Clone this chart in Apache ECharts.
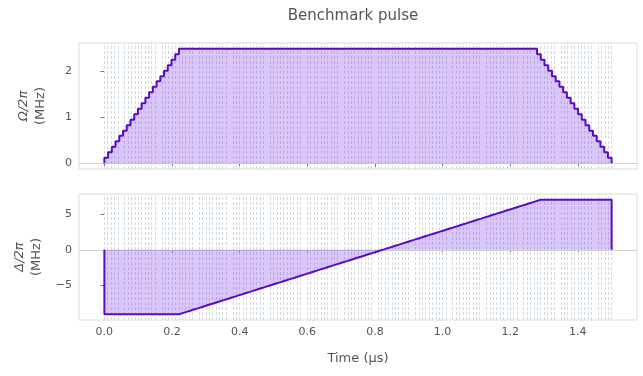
<!DOCTYPE html>
<html>
<head>
<meta charset="utf-8">
<script src="https://cdn.jsdelivr.net/npm/echarts@6/dist/echarts.min.js"></script>
<style>
html, body { margin: 0; padding: 0; background: #fff; }
#chart { width: 643px; height: 376px; }
</style>
</head>
<body>
<div id="chart"></div>
<script>
// one sample per step, 136 samples over 1.5 us
const DT = 1.5 / 136
const T_END = 1.5

// Omega/2pi (MHz), one value per sample
const omega = [
  0.12, 0.24, 0.36, 0.48, 0.60, 0.71, 0.83, 0.95, 1.07, 1.19, 1.31, 1.43, 1.55, 1.67, 1.79, 1.90, 2.02, 2.14, 2.26, 2.38,
  2.5, 2.5, 2.5, 2.5, 2.5, 2.5, 2.5, 2.5, 2.5, 2.5, 2.5, 2.5, 2.5, 2.5, 2.5, 2.5,
  2.5, 2.5, 2.5, 2.5, 2.5, 2.5, 2.5, 2.5, 2.5, 2.5, 2.5, 2.5, 2.5, 2.5, 2.5, 2.5,
  2.5, 2.5, 2.5, 2.5, 2.5, 2.5, 2.5, 2.5, 2.5, 2.5, 2.5, 2.5, 2.5, 2.5, 2.5, 2.5,
  2.5, 2.5, 2.5, 2.5, 2.5, 2.5, 2.5, 2.5, 2.5, 2.5, 2.5, 2.5, 2.5, 2.5, 2.5, 2.5,
  2.5, 2.5, 2.5, 2.5, 2.5, 2.5, 2.5, 2.5, 2.5, 2.5, 2.5, 2.5, 2.5, 2.5, 2.5, 2.5,
  2.5, 2.5, 2.5, 2.5, 2.5, 2.5, 2.5, 2.5, 2.5, 2.5, 2.5, 2.5, 2.5, 2.5, 2.5, 2.5,
  2.38, 2.26, 2.14, 2.02, 1.90, 1.79, 1.67, 1.55, 1.43, 1.31, 1.19, 1.07, 0.95, 0.83, 0.71, 0.60, 0.48, 0.36, 0.24, 0.12
]

// Delta/2pi (MHz), one value per sample
const delta = [
  -9, -9, -9, -9, -9, -9, -9, -9, -9, -9, -9, -9, -9, -9, -9, -9, -9, -9, -9, -9,
  -8.84, -8.67, -8.51, -8.34, -8.18, -8.01, -7.85, -7.68, -7.52, -7.35, -7.19, -7.02,
  -6.86, -6.69, -6.53, -6.36, -6.20, -6.03, -5.87, -5.70, -5.54, -5.37, -5.21, -5.04,
  -4.88, -4.71, -4.55, -4.38, -4.22, -4.05, -3.89, -3.72, -3.56, -3.39, -3.23, -3.06,
  -2.90, -2.73, -2.57, -2.40, -2.24, -2.07, -1.91, -1.74, -1.58, -1.41, -1.25, -1.08,
  -0.92, -0.75, -0.59, -0.42, -0.26, -0.09, 0.07, 0.24, 0.40, 0.57, 0.73, 0.90,
  1.06, 1.23, 1.39, 1.56, 1.72, 1.89, 2.05, 2.22, 2.38, 2.55, 2.71, 2.88,
  3.04, 3.21, 3.37, 3.54, 3.70, 3.87, 4.03, 4.20, 4.36, 4.53, 4.69, 4.86,
  5.02, 5.19, 5.35, 5.52, 5.68, 5.85, 6.01, 6.18, 6.34, 6.51, 6.67, 6.84,
  7, 7, 7, 7, 7, 7, 7, 7, 7, 7, 7, 7, 7, 7, 7, 7, 7, 7, 7, 7
]

const xTicks = [0, 0.2, 0.4, 0.6, 0.8, 1.0, 1.2, 1.4]
const omegaTicks = [0, 1, 2]
const deltaTicks = [-5, 0, 5]

const FONT = 'DejaVu Sans'
const TXT = '#555555'
const LINE = '#5a0cc4'
const FILL = 'rgba(128, 60, 235, 0.42)'

// sample start times + final edge
const times = omega.map((_, i) => +(i * DT).toFixed(6))
const edges = times.concat([T_END])

function stepData (vals) {
  const d = [[0, 0]]
  vals.forEach((v, i) => d.push([times[i], v]))
  d.push([T_END, 0])
  return d
}

function xAxis (idx, withLabels) {
  return {
    type: 'value', gridIndex: idx, min: -0.075, max: 1.575,
    axisLine: { show: false },
    splitLine: { show: false },
    axisTick: { show: true, length: 4, customValues: xTicks, lineStyle: { color: '#777' } },
    axisLabel: {
      show: withLabels, customValues: xTicks, color: TXT, fontFamily: FONT, fontSize: 11, margin: 7,
      formatter: v => v.toFixed(1)
    },
    name: withLabels ? 'Time (µs)' : '',
    nameLocation: 'middle', nameGap: 32,
    nameTextStyle: { color: TXT, fontFamily: FONT, fontSize: 13 }
  }
}

function yAxis (idx, min, max, ticks, sym) {
  return {
    type: 'value', gridIndex: idx, min: min, max: max,
    axisLine: { show: false },
    splitLine: { show: false },
    axisTick: { show: true, length: 4, customValues: ticks, lineStyle: { color: '#777' } },
    axisLabel: {
      customValues: ticks, color: TXT, fontFamily: FONT, fontSize: 11, margin: 7,
      formatter: v => String(v).replace('-', '\u2212')
    },
    name: '{i|' + sym + '/2π}\n{n|(MHz)}',
    nameLocation: 'middle', nameRotate: 90, nameGap: 30,
    nameTextStyle: {
      color: TXT, fontFamily: FONT, fontSize: 13, lineHeight: 17,
      rich: {
        i: { fontStyle: 'italic', fontFamily: FONT, fontSize: 13, color: TXT, lineHeight: 17 },
        n: { fontFamily: FONT, fontSize: 13, color: TXT, lineHeight: 17 }
      }
    }
  }
}

function sampleLines (idx) {
  return {
    type: 'line', xAxisIndex: idx, yAxisIndex: idx, data: [], z: 1, silent: true,
    markLine: {
      symbol: 'none', silent: true, animation: false, z: 1,
      label: { show: false },
      lineStyle: { color: '#d0dae0', width: 1, type: [3, 2] },
      data: edges.map(t => ({ xAxis: t }))
    }
  }
}

function pulse (idx, vals) {
  return {
    type: 'line', xAxisIndex: idx, yAxisIndex: idx, step: 'end', z: 4,
    showSymbol: false, animation: false,
    data: stepData(vals),
    lineStyle: { color: LINE, width: 2 },
    areaStyle: { color: FILL, origin: 0 },
    markLine: {
      symbol: 'none', silent: true, animation: false, z: 2,
      label: { show: false },
      lineStyle: { color: '#cfcfcf', width: 1, type: 'solid' },
      data: [{ yAxis: 0 }]
    }
  }
}

const chart = echarts.init(document.getElementById('chart'))
chart.setOption({
  backgroundColor: '#ffffff',
  animation: false,
  title: {
    text: 'Benchmark pulse', left: 348, top: 4, textAlign: 'center',
    textStyle: { color: TXT, fontFamily: FONT, fontSize: 15, fontWeight: 'normal' }
  },
  grid: [
    { left: 79, top: 43, width: 558, height: 126, show: true, borderColor: '#dddddd', borderWidth: 1 },
    { left: 79, top: 194, width: 558, height: 126, show: true, borderColor: '#dddddd', borderWidth: 1 }
  ],
  xAxis: [xAxis(0, false), xAxis(1, true)],
  yAxis: [
    yAxis(0, -0.125, 2.625, omegaTicks, 'Ω'),
    yAxis(1, -9.8, 7.8, deltaTicks, 'Δ')
  ],
  series: [
    sampleLines(0), sampleLines(1),
    pulse(0, omega), pulse(1, delta)
  ]
})
</script>
</body>
</html>
